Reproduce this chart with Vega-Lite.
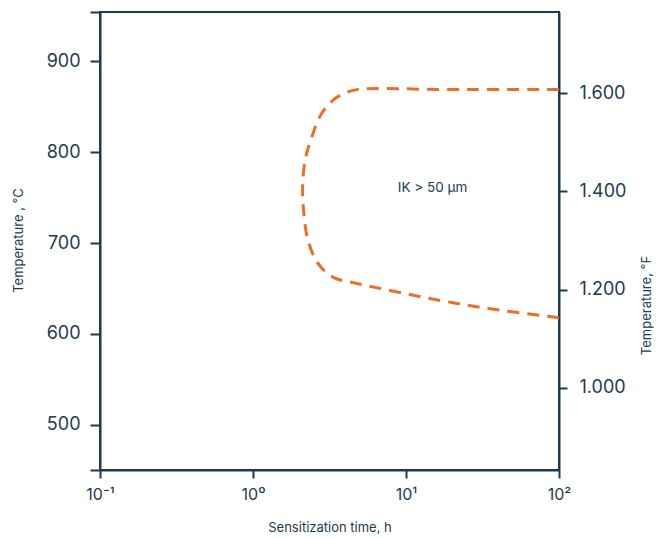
{
  "$schema": "https://vega.github.io/schema/vega-lite/v6.json",
  "width": 459,
  "height": 458,
  "autosize": {"type": "none"},
  "padding": {"left": 100, "top": 12, "right": 99, "bottom": 68},
  "background": "white",
  "config": {
    "view": {"stroke": "#1d3b50", "strokeWidth": 2},
    "font": "Inter",
    "axis": {
      "grid": false,
      "domainColor": "#1d3b50",
      "tickColor": "#1d3b50",
      "labelColor": "#1d3b50",
      "titleColor": "#1d3b50",
      "domainWidth": 2,
      "tickWidth": 2,
      "titleFontWeight": "normal",
      "labelFont": "Inter",
      "titleFont": "Inter"
    }
  },
  "layer": [
    {
      "layer": [
        {
          "data": {
            "values": [
              {"i": 1, "t": 100, "C": 869},
              {"i": 2, "t": 20, "C": 869},
              {"i": 3, "t": 4.76, "C": 869},
              {"i": 4, "t": 3.99, "C": 865.1},
              {"i": 5, "t": 3.44, "C": 859.2},
              {"i": 6, "t": 2.81, "C": 842.7},
              {"i": 7, "t": 2.42, "C": 816.6},
              {"i": 8, "t": 2.19, "C": 791},
              {"i": 9, "t": 2.11, "C": 761.5},
              {"i": 10, "t": 2.15, "C": 732.6},
              {"i": 11, "t": 2.29, "C": 702.8},
              {"i": 12, "t": 2.66, "C": 677.5},
              {"i": 13, "t": 3.33, "C": 662.4},
              {"i": 14, "t": 4.76, "C": 655.5},
              {"i": 15, "t": 7.86, "C": 647.8},
              {"i": 16, "t": 16.7, "C": 636.8},
              {"i": 17, "t": 35.4, "C": 627.6},
              {"i": 18, "t": 100, "C": 617.7}
            ]
          },
          "mark": {"type": "line", "color": "#EB6E25", "strokeWidth": 3, "strokeDash": [12, 8], "interpolate": "catmull-rom", "clip": true},
          "encoding": {
            "x": {
              "field": "t",
              "type": "quantitative",
              "scale": {"type": "log", "domain": [0.1, 100], "nice": false},
              "axis": {
                "values": [0.1, 1, 10, 100],
                "labelExpr": "datum.value < 0.5 ? '10⁻¹' : datum.value < 5 ? '10⁰' : datum.value < 50 ? '10¹' : '10²'",
                "tickSize": 8,
                "labelPadding": 8,
                "labelFontSize": 16,
                "labelFlush": false,
                "title": "Sensitization time, h",
                "titleFontSize": 13,
                "titleY": 57,
                "titleBaseline": "middle"
              }
            },
            "y": {
              "field": "C",
              "type": "quantitative",
              "scale": {"domain": [450, 954.5], "nice": false, "zero": false},
              "axis": {
                "orient": "left",
                "values": [450, 500, 600, 700, 800, 900, 954.5],
                "labelExpr": "datum.value == 450 || datum.value > 950 ? '' : datum.label",
                "tickSize": 10,
                "labelPadding": 10,
                "labelFontSize": 18,
                "title": "Temperature , °C",
                "titleFontSize": 13,
                "titleAngle": 270,
                "titleX": -82,
                "titleY": 228,
                "titleBaseline": "middle",
                "titleAlign": "center"
              }
            },
            "order": {"field": "i", "type": "quantitative"}
          }
        },
        {
          "data": {"values": [{"t": 14.9, "C": 761, "label": "IK > 50 µm"}]},
          "mark": {"type": "text", "fontSize": 13.5, "color": "#1d3b50", "font": "Inter"},
          "encoding": {
            "x": {"field": "t", "type": "quantitative"},
            "y": {"field": "C", "type": "quantitative"},
            "text": {"field": "label"}
          }
        }
      ]
    },
    {
      "data": {"values": [{"F": 1000}]},
      "mark": {"type": "point", "opacity": 0},
      "encoding": {
        "y": {
          "field": "F",
          "type": "quantitative",
          "scale": {"domain": [832.3, 1765.7], "nice": false, "zero": false},
          "axis": {
            "orient": "right",
            "values": [1000, 1200, 1400, 1600],
            "labelExpr": "replace(format(datum.value, ','), ',', '.')",
            "tickSize": 8,
            "labelPadding": 12,
            "labelFontSize": 18,
            "title": "Temperature, °F",
            "titleFontSize": 13,
            "titleAngle": 270,
            "titleX": 87,
            "titleY": 293,
            "titleBaseline": "middle",
            "titleAlign": "center"
          }
        }
      }
    }
  ],
  "resolve": {"scale": {"y": "independent"}}
}
